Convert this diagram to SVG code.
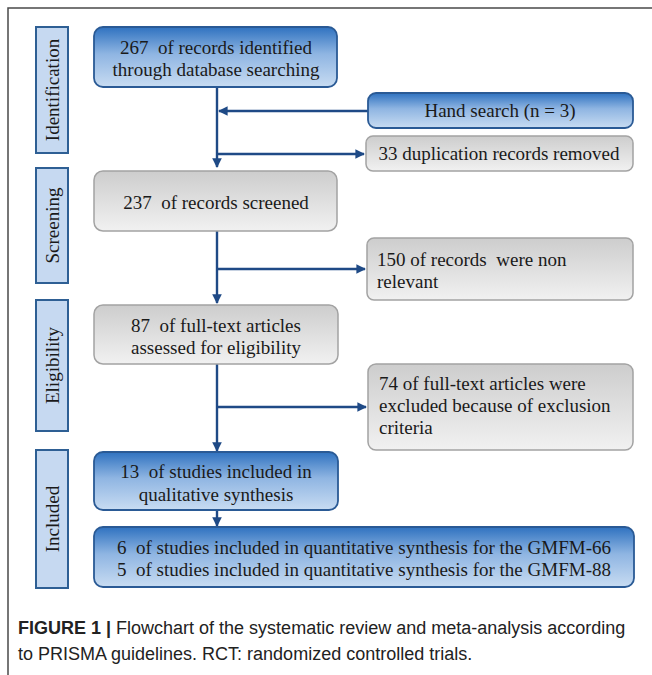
<svg xmlns="http://www.w3.org/2000/svg" width="652" height="675" viewBox="0 0 652 675">
<defs>
<linearGradient id="gBlue" x1="0" y1="0" x2="0" y2="1">
<stop offset="0" stop-color="#2f72c0"/>
<stop offset="0.45" stop-color="#8fb5e2"/>
<stop offset="1" stop-color="#c8dcf2"/>
</linearGradient>
<linearGradient id="gGray" x1="0" y1="0" x2="0" y2="1">
<stop offset="0" stop-color="#cdcdcd"/>
<stop offset="1" stop-color="#f1f1f1"/>
</linearGradient>
<marker id="ah" viewBox="0 0 10 10" refX="9" refY="5" markerWidth="4" markerHeight="4" orient="auto" markerUnits="strokeWidth">
<path d="M0,0 L10,5 L0,10 z" fill="#1f4a86"/>
</marker>
<style>
.blue{fill:url(#gBlue);stroke:#2a5a95;stroke-width:1.8}
.gray{fill:url(#gGray);stroke:#a3a3a3;stroke-width:1.5}
.lab{fill:#c6d9f1;stroke:#2e5f94;stroke-width:2}
.t{font-family:"Liberation Serif","Times New Roman",serif;font-size:19px;fill:#1a1a1a;white-space:pre}
.c{text-anchor:middle}
.conn{fill:none;stroke:#1f4a86;stroke-width:2.4}
.cap{font-family:"Liberation Sans",Arial,sans-serif;font-size:18px;fill:#222}
</style>
</defs>
<path d="M8,675 L8,8 L652,8" fill="none" stroke="#4a4a4a" stroke-width="1.5"/>

<g id="lab-identification"><rect class="lab" x="36" y="27" width="32" height="126"/><text class="t c" transform="translate(58.5,90) rotate(-90)">Identification</text></g>
<g id="lab-screening"><rect class="lab" x="36" y="168" width="32" height="115"/><text class="t c" transform="translate(58.5,225.5) rotate(-90)">Screening</text></g>
<g id="lab-eligibility"><rect class="lab" x="36" y="300" width="32" height="131"/><text class="t c" transform="translate(58.5,365.5) rotate(-90)">Eligibility</text></g>
<g id="lab-included"><rect class="lab" x="36" y="450" width="32" height="138"/><text class="t c" transform="translate(58.5,519) rotate(-90)">Included</text></g>

<g id="connectors">
<path class="conn" d="M217,87 V167" marker-end="url(#ah)"/>
<path class="conn" d="M368,111 H219" marker-end="url(#ah)"/>
<path class="conn" d="M217,154 H364" marker-end="url(#ah)"/>
<path class="conn" d="M217,231 V303" marker-end="url(#ah)"/>
<path class="conn" d="M217,269 H365" marker-end="url(#ah)"/>
<path class="conn" d="M217,364 V451" marker-end="url(#ah)"/>
<path class="conn" d="M217,407 H366" marker-end="url(#ah)"/>
<path class="conn" d="M217,510 V526" marker-end="url(#ah)"/>
</g>

<g id="n-identified"><rect class="blue" x="94" y="27" width="243" height="60" rx="9"/><text class="t c" x="216" y="54" xml:space="preserve">267  of records identified</text><text class="t c" x="216" y="76">through database searching</text></g>
<g id="n-hand"><rect class="blue" x="368" y="93" width="265" height="35" rx="8"/><text class="t c" x="500" y="117">Hand search (n = 3)</text></g>
<g id="n-dup"><rect class="gray" x="366" y="136" width="267" height="35" rx="7"/><text class="t c" x="499" y="160">33 duplication records removed</text></g>
<g id="n-screened"><rect class="gray" x="94" y="171" width="243" height="60" rx="9"/><text class="t c" x="216" y="209" xml:space="preserve">237  of records screened</text></g>
<g id="n-nonrel"><rect class="gray" x="367" y="238" width="266" height="62" rx="7"/><text class="t" x="377" y="266" xml:space="preserve">150 of records  were non</text><text class="t" x="377" y="288">relevant</text></g>
<g id="n-fulltext"><rect class="gray" x="94" y="305" width="244" height="59" rx="9"/><text class="t c" x="216" y="332" xml:space="preserve">87  of full-text articles</text><text class="t c" x="216" y="354">assessed for eligibility</text></g>
<g id="n-excluded"><rect class="gray" x="368" y="364" width="265" height="86" rx="8"/><text class="t" x="379" y="390">74 of full-text articles were</text><text class="t" x="379" y="412">excluded because of exclusion</text><text class="t" x="379" y="434">criteria</text></g>
<g id="n-qual"><rect class="blue" x="94" y="452" width="244" height="58" rx="9"/><text class="t c" x="216" y="478" xml:space="preserve">13  of studies included in</text><text class="t c" x="216" y="501">qualitative synthesis</text></g>
<g id="n-quant"><rect class="blue" x="94" y="527" width="540" height="60" rx="9"/><text class="t c" x="364" y="554" xml:space="preserve">6  of studies included in quantitative synthesis for the GMFM-66</text><text class="t c" x="364" y="576" xml:space="preserve">5  of studies included in quantitative synthesis for the GMFM-88</text></g>

<text class="cap" x="18" y="634"><tspan font-weight="bold">FIGURE 1 |</tspan> Flowchart of the systematic review and meta-analysis according</text>
<text class="cap" x="18" y="660">to PRISMA guidelines. RCT: randomized controlled trials.</text>
</svg>
